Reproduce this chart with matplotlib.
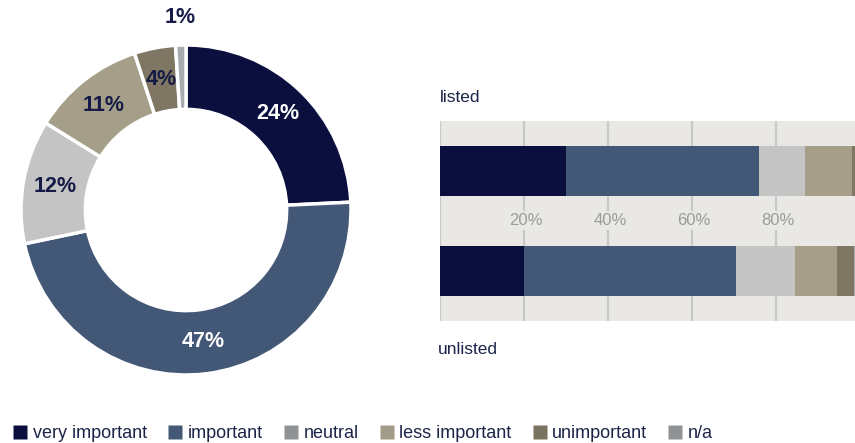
import matplotlib
matplotlib.use("Agg")
import matplotlib.pyplot as plt
from matplotlib.lines import Line2D
import numpy as np

# ---- data ----
categories = ["very important", "important", "neutral", "less important", "unimportant", "n/a"]
donut_values = [24, 47, 12, 11, 4, 1]
donut_labels = ["24%", "47%", "12%", "11%", "4%", "1%"]
groups = ["listed", "unlisted"]
listed_values = [30, 46, 11, 11, 1, 1]
unlisted_values = [20, 50.5, 14, 10, 4, 1.5]
x_ticks = [20, 40, 60, 80]
x_tick_labels = ["20%", "40%", "60%", "80%"]

chart_colors = ["#0a0f3e", "#435777", "#c4c4c4", "#a59e89", "#7f7763", "#a9acaf"]
legend_colors = ["#0a0f3e", "#435777", "#8f9395", "#a09c88", "#77735f", "#8f9395"]
label_colors = ["white", "white", "#151b46", "#151b46", "#151b46", "#151b46"]
navy_text = "#1c2448"
FONT = ["Liberation Sans", "DejaVu Sans"]

W, H = 855, 443
fig = plt.figure(figsize=(W / 100, H / 100), dpi=100)
fig.patch.set_facecolor("white")

# ---- donut ----
cx, cy, R = 186, 210, 165
half = 200
ax = fig.add_axes([(cx - half) / W, (H - cy - half) / H, 2 * half / W, 2 * half / H])
ring = 0.39
wedges, _ = ax.pie(donut_values, colors=chart_colors, startangle=90, counterclock=False,
                   radius=1.0, wedgeprops=dict(width=ring, edgecolor="white", linewidth=2.5))
ax.set_xlim(-half / R, half / R)
ax.set_ylim(-half / R, half / R)
ax.set_aspect("auto")
ax.axis("off")
total = sum(donut_values)
cum = 0
for i, v in enumerate(donut_values):
    mid = (cum + v / 2) / total
    cum += v
    ang = np.deg2rad(90 - 360 * mid)
    r = 1 - ring / 2 if v >= 3 else 1.17
    ax.text(r * np.cos(ang), r * np.sin(ang), donut_labels[i], ha="center", va="center",
            fontsize=15.5, fontweight="bold", family=FONT,
            color=label_colors[i])

# ---- stacked bars ----
bx0, bx1, by0, by1 = 440, 860, 121, 321
bax = fig.add_axes([bx0 / W, (H - by1) / H, (bx1 - bx0) / W, (by1 - by0) / H])
bg = "#e9e8e4"
bax.set_facecolor(bg)
bax.set_xlim(0, 100)
bax.set_ylim(0, 4)
for s in bax.spines.values():
    s.set_visible(False)
bax.set_xticks([])
bax.set_yticks([])
for xv in [0] + x_ticks:
    bax.axvline(xv, color="#c8c8c8", lw=1.6, zorder=1)
ypos = {"listed": 3, "unlisted": 1}
for g, vals in zip(groups, [listed_values, unlisted_values]):
    left = 0
    for v, c in zip(vals, chart_colors):
        bax.barh(ypos[g], v, left=left, height=1.0, color=c, edgecolor="none", zorder=2)
        left += v
for xv, lab in zip(x_ticks, x_tick_labels):
    bax.text(xv + 0.5, 2, lab, ha="center", va="center", fontsize=12, color="#9b9b9b",
             family=FONT, zorder=3,
             bbox=dict(facecolor=bg, edgecolor="none", pad=1.5))

fig.text(440 / W, 1 - 97 / H, groups[0], ha="left", va="center", fontsize=12.5,
         color=navy_text, family=FONT)
fig.text(438 / W, 1 - 349 / H, groups[1], ha="left", va="center", fontsize=12.5,
         color=navy_text, family=FONT)

# ---- legend ----
handles = [Line2D([0], [0], marker="s", linestyle="none", markersize=10,
                  markerfacecolor=c, markeredgecolor="none") for c in legend_colors]
leg = fig.legend(handles, categories, loc="center left", bbox_to_anchor=(15 / W, 1 - 434 / H),
                 ncol=6, frameon=False, handlelength=0.6, handletextpad=0.4,
                 columnspacing=1.25, borderaxespad=0, borderpad=0,
                 prop={"family": FONT, "size": 13})
for t in leg.get_texts():
    t.set_color(navy_text)

fig.savefig("out.png", dpi=100, facecolor="white")
